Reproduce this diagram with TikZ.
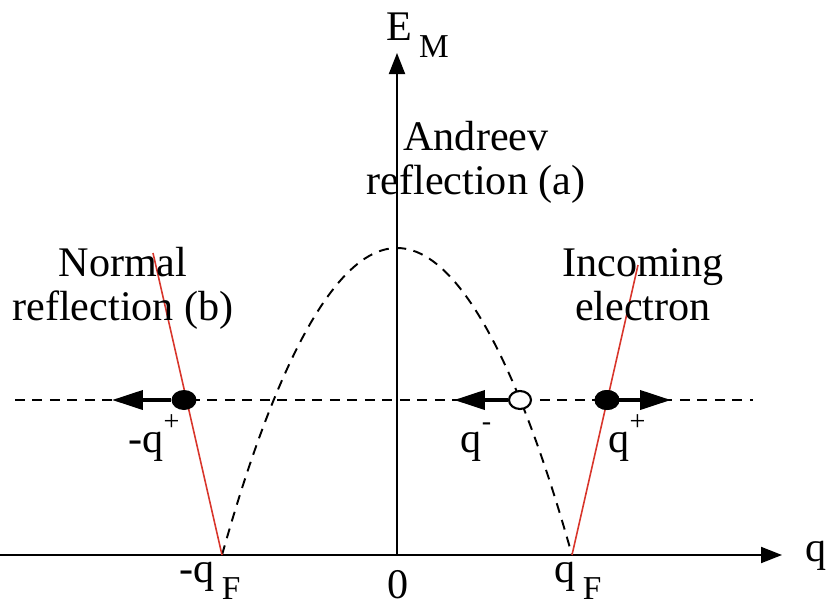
\documentclass[tikz,border=0pt]{standalone}
\usepackage{fontspec}
\setmainfont{Liberation Serif}
\usetikzlibrary{arrows.meta,positioning,shapes.geometric}
\definecolor{linered}{HTML}{D8352B}
\newcommand{\supx}[1]{\raisebox{0.5em}{\fontsize{16}{16}\selectfont #1}}
\newcommand{\subx}[1]{\,\raisebox{-0.42em}{\fontsize{19}{19}\selectfont #1}}

\begin{document}
\begin{tikzpicture}[x=0.02cm,y=-0.02cm,>={Triangle[length=0.42cm,width=0.32cm]},font=\fontsize{24}{25}\selectfont]

\tikzset{
ax/.style={->,line width=1.1pt},
dsh/.style={dash pattern=on 0.2cm off 0.15cm,line width=1.1pt},
rd/.style={draw=linered,line width=0.9pt},
dot/.style={ellipse,fill=black,inner sep=0pt,minimum width=0.5cm,minimum height=0.4cm},
hole/.style={ellipse,draw,fill=white,line width=1.2pt,inner sep=0pt,minimum width=0.44cm,minimum height=0.36cm},
mv/.style={->,line width=2.2pt,>={Triangle[length=0.62cm,width=0.38cm]}},
lb/.style={align=center,inner sep=0pt}
}

\useasboundingbox (0,0) rectangle (826,606);

% axes
\coordinate (qfl) at (222,555);
\coordinate (qfr) at (572,555);
\coordinate (o) at (397,555);
\coordinate (xl) at (0,555);
\coordinate (xr) at (782,555);
\coordinate (yt) at (397,53);
\draw[ax] (xl) -- (xr);
\draw[ax] (o) -- (yt);
\node[anchor=base west,inner sep=0pt] (qlab) at (805,561) {q};
\node[anchor=base west,inner sep=0pt] (elab) at (386,40) {E\subx{M}};

% bands
\coordinate (top) at (397,248);
\coordinate (rl) at (153,253);
\coordinate (rr) at (638,265);
\draw[dsh] (qfl) parabola bend (top) (qfr);
\draw[rd] (qfl) -- (rl);
\draw[rd] (qfr) -- (rr);

% energy level
\coordinate (el) at (15,400);
\coordinate (er) at (753,400);
\draw[dsh] (el) -- (er);

\node[dot] (nd) at (184,400) {};
\node[hole] (ad) at (520,400) {};
\node[dot] (ind) at (607,400) {};
\coordinate (ndtip) at (112,400);
\coordinate (adtip) at (454,400);
\coordinate (indtip) at (671,400);
\draw[mv] (nd) -- (ndtip);
\draw[mv] (ad) -- (adtip);
\draw[mv] (ind.center) -- (indtip);
\node[dot] at (ind) {};

% labels
\node[lb,anchor=base] (andreev) at (476,194) {Andreev\\reflection (a)};
\node[lb,anchor=base] (normal) at (123,320) {Normal\\reflection (b)};
\node[lb,anchor=base] (incoming) at (643,320) {Incoming\\electron};

\node[anchor=base,inner sep=0pt] (mqp) at (154,452) {-q\supx{+}};
\node[anchor=base,inner sep=0pt] (qm) at (476,452) {q\supx{-}};
\node[anchor=base,inner sep=0pt] (qp) at (627,452) {q\supx{+}};
\node[anchor=base,inner sep=0pt] (mqf) at (210,582) {-q\subx{F}};
\node[anchor=base,inner sep=0pt] (zero) at (398,598) {0};
\node[anchor=base,inner sep=0pt] (qf) at (578,582) {q\subx{F}};

\end{tikzpicture}
\end{document}
